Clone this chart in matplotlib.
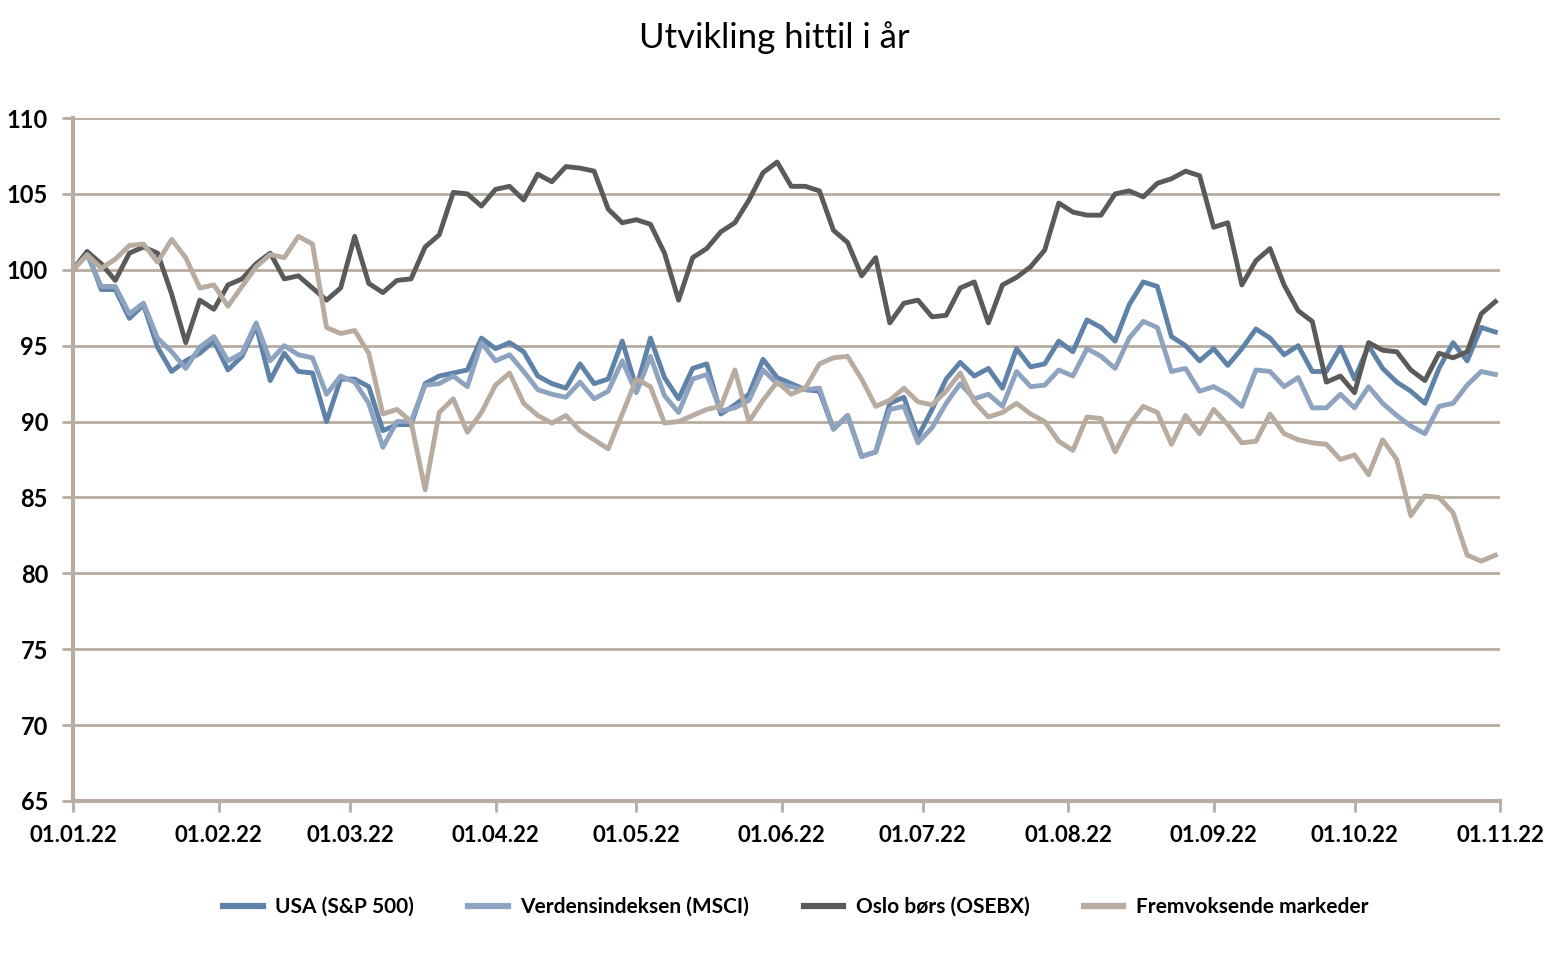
import matplotlib
matplotlib.use("Agg")
import matplotlib.pyplot as plt
import matplotlib.dates as mdates
import pandas as pd

# Datoer: hver tredje dag fra 01.01.22
datoer = pd.date_range("2022-01-01", periods=102, freq="3D")

usa = [100, 101.2, 98.7, 98.7, 96.8, 97.7, 94.9, 93.3, 94.0, 94.5, 95.3, 93.4, 94.3, 96.3, 92.7, 94.5, 93.3, 93.2, 90.0, 92.8,
       92.8, 92.3, 89.4, 89.8, 89.8, 92.5, 93.0, 93.2, 93.4, 95.5, 94.8, 95.2, 94.6, 93.0, 92.5, 92.2, 93.8, 92.5, 92.8, 95.3, 92.2,
       95.5, 92.9, 91.5, 93.5, 93.8, 90.5, 91.1, 91.8, 94.1, 92.9, 92.5, 92.1, 92.0, 89.5, 90.4, 87.7, 88.0, 91.2, 91.6, 89.0,
       90.8, 92.8, 93.9, 93.0, 93.5, 92.2, 94.8, 93.6, 93.8, 95.3, 94.6, 96.7, 96.2, 95.3, 97.7, 99.2, 98.9, 95.6, 95.0, 94.0,
       94.8, 93.7, 94.8, 96.1, 95.5, 94.4, 95.0, 93.3, 93.3, 94.9, 92.8, 95.0, 93.5, 92.6, 92.0, 91.2, 93.5, 95.2, 94.0, 96.2, 95.9]

msci = [100, 101.0, 98.9, 98.9, 97.1, 97.8, 95.5, 94.6, 93.5, 94.9, 95.6, 94.0, 94.5, 96.5, 94.0, 95.0, 94.4, 94.2, 91.8, 93.0,
        92.6, 91.2, 88.3, 90.0, 90.0, 92.4, 92.5, 93.0, 92.3, 95.2, 94.0, 94.4, 93.3, 92.1, 91.8, 91.6, 92.6, 91.5, 92.0, 94.0, 91.9,
        94.3, 91.7, 90.6, 92.8, 93.1, 90.7, 90.9, 91.4, 93.4, 92.5, 92.3, 92.1, 92.2, 89.5, 90.4, 87.7, 88.0, 90.8, 91.0, 88.6,
        89.6, 91.2, 92.5, 91.5, 91.8, 91.0, 93.3, 92.3, 92.4, 93.4, 93.0, 94.8, 94.3, 93.5, 95.5, 96.6, 96.2, 93.3, 93.5, 92.0,
        92.3, 91.8, 91.0, 93.4, 93.3, 92.3, 92.9, 90.9, 90.9, 91.8, 90.9, 92.3, 91.2, 90.4, 89.7, 89.2, 91.0, 91.2, 92.4, 93.3, 93.1]

osebx = [100, 101.2, 100.4, 99.3, 101.1, 101.5, 101.1, 98.4, 95.2, 98.0, 97.4, 99.0, 99.4, 100.4, 101.1, 99.4, 99.6, 98.8, 98.0, 98.8,
         102.2, 99.1, 98.5, 99.3, 99.4, 101.5, 102.3, 105.1, 105.0, 104.2, 105.3, 105.5, 104.6, 106.3, 105.8, 106.8, 106.7, 106.5, 104.0, 103.1, 103.3,
         103.0, 101.1, 98.0, 100.8, 101.4, 102.5, 103.1, 104.6, 106.4, 107.1, 105.5, 105.5, 105.2, 102.6, 101.8, 99.6, 100.8, 96.5, 97.8, 98.0,
         96.9, 97.0, 98.8, 99.2, 96.5, 99.0, 99.5, 100.2, 101.3, 104.4, 103.8, 103.6, 103.6, 105.0, 105.2, 104.8, 105.7, 106.0, 106.5, 106.2,
         102.8, 103.1, 99.0, 100.6, 101.4, 99.0, 97.3, 96.6, 92.6, 93.0, 91.9, 95.2, 94.7, 94.6, 93.4, 92.7, 94.5, 94.2, 94.6, 97.1, 97.9]

em = [100, 101.0, 100.1, 100.7, 101.6, 101.7, 100.5, 102.0, 100.8, 98.8, 99.0, 97.6, 98.9, 100.2, 101.0, 100.8, 102.2, 101.7, 96.2, 95.8,
      96.0, 94.5, 90.5, 90.8, 90.0, 85.5, 90.6, 91.5, 89.3, 90.6, 92.4, 93.2, 91.2, 90.4, 89.9, 90.4, 89.4, 88.8, 88.2, 90.5, 92.8,
      92.3, 89.9, 90.0, 90.4, 90.8, 91.0, 93.4, 90.0, 91.4, 92.6, 91.8, 92.2, 93.8, 94.2, 94.3, 92.8, 91.0, 91.4, 92.2, 91.3,
      91.1, 92.0, 93.2, 91.3, 90.3, 90.6, 91.2, 90.5, 90.0, 88.7, 88.1, 90.3, 90.2, 88.0, 89.8, 91.0, 90.6, 88.5, 90.4, 89.2,
      90.8, 89.8, 88.6, 88.7, 90.5, 89.2, 88.8, 88.6, 88.5, 87.5, 87.8, 86.5, 88.8, 87.5, 83.8, 85.1, 85.0, 84.0, 81.2, 80.8, 81.2]

serier = ["USA (S&P 500)", "Verdensindeksen (MSCI)", "Oslo børs (OSEBX)", "Fremvoksende markeder"]
farger = ["#5f82a9", "#8ea3c0", "#5a5a5a", "#b8ab9f"]
rutenett = "#b8ab9f"

plt.rcParams["font.family"] = ["Lato", "DejaVu Sans"]

fig = plt.figure(figsize=(15.48, 9.73), dpi=100)
ax = fig.add_axes([0.0472, 0.1768, 0.9218, 0.7019])

for navn, verdier, farge in zip(serier, [usa, msci, osebx, em], farger):
    ax.plot(datoer, verdier, color=farge, linewidth=3.5, label=navn, solid_joinstyle="round")

ax.set_ylim(65, 110)
ax.set_yticks(range(65, 111, 5))
ax.set_xlim(pd.Timestamp("2022-01-01"), pd.Timestamp("2022-11-01"))
ax.xaxis.set_major_locator(mdates.MonthLocator())
ax.xaxis.set_major_formatter(mdates.DateFormatter("%d.%m.%y"))

ax.grid(axis="y", color=rutenett, linewidth=2)
ax.set_axisbelow(True)
for s in ["top", "right"]:
    ax.spines[s].set_visible(False)
for s in ["left", "bottom"]:
    ax.spines[s].set_color(rutenett)
    ax.spines[s].set_linewidth(3)
ax.tick_params(axis="both", colors=rutenett, width=2, length=8, labelcolor="black")
ax.tick_params(axis="y", labelsize=17, pad=10)
ax.tick_params(axis="x", labelsize=16, pad=9)
for t in ax.get_yticklabels() + ax.get_xticklabels():
    t.set_fontweight("bold")

fig.suptitle("Utvikling hittil i år", y=0.978, fontsize=25)

leg = fig.legend(loc="center", bbox_to_anchor=(0.514, 0.068), ncol=4, frameon=False,
                 prop={"size": 15, "weight": "bold"}, handlelength=1.9, handletextpad=0.6,
                 columnspacing=2.6)
for h in leg.get_lines():
    h.set_linewidth(4.5)

fig.savefig("out.png", dpi=100)
